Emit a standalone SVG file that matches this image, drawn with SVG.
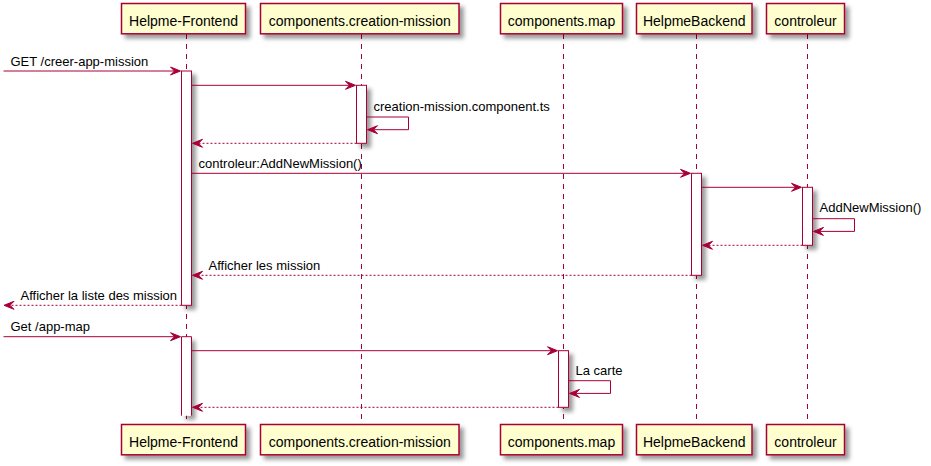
<svg xmlns="http://www.w3.org/2000/svg" width="931" height="466" viewBox="0 0 931 466">
<defs>
<filter id="sh" x="-1" y="-1" width="300%" height="300%">
<feGaussianBlur result="b1" stdDeviation="2"/>
<feColorMatrix in="b1" result="b2" type="matrix" values="0 0 0 0 0 0 0 0 0 0 0 0 0 0 0 0 0 0 .4 0"/>
<feOffset dx="4" dy="4" in="b2" result="b3"/>
<feBlend in="SourceGraphic" in2="b3" mode="normal"/>
</filter>
<style>
.box{fill:#FEFECE;stroke:#A80036;stroke-width:1.5}
.pt{font-family:"Liberation Sans",Arial,sans-serif;font-size:14px;fill:#000;text-anchor:middle}
.mt{font-family:"Liberation Sans",Arial,sans-serif;font-size:13px;fill:#000}
.life{stroke:#A80036;stroke-width:1;stroke-dasharray:5,5;fill:none}
.act{fill:#FFFFFF;stroke:#A80036;stroke-width:1}
.msg{stroke:#A80036;stroke-width:1;fill:none}
.ret{stroke:#A80036;stroke-width:1;fill:none;stroke-dasharray:2,2}
.ah{fill:#A80036;stroke:#A80036;stroke-width:1}
</style>
</defs>
<rect width="931" height="466" fill="#FFFFFF"/>
<g id="lifelines">
<line class="life" x1="186.5" y1="34" x2="186.5" y2="424.5"/>
<line class="life" x1="361.5" y1="34" x2="361.5" y2="424.5"/>
<line class="life" x1="563.5" y1="34" x2="563.5" y2="424.5"/>
<line class="life" x1="696.5" y1="34" x2="696.5" y2="424.5"/>
<line class="life" x1="807.5" y1="34" x2="807.5" y2="424.5"/>
</g>
<g id="p-frontend">
<rect class="box" filter="url(#sh)" x="121.5" y="3.5" width="124" height="30.3"/>
<text class="pt" x="183.5" y="25.5">Helpme-Frontend</text>
<rect class="box" filter="url(#sh)" x="121.5" y="424.5" width="124" height="30.3"/>
<text class="pt" x="183.5" y="446.5">Helpme-Frontend</text>
</g>
<g id="p-creation">
<rect class="box" filter="url(#sh)" x="260.5" y="3.5" width="198.5" height="30.3"/>
<text class="pt" x="359.75" y="25.5">components.creation-mission</text>
<rect class="box" filter="url(#sh)" x="260.5" y="424.5" width="198.5" height="30.3"/>
<text class="pt" x="359.75" y="446.5">components.creation-mission</text>
</g>
<g id="p-map">
<rect class="box" filter="url(#sh)" x="500.5" y="3.5" width="122" height="30.3"/>
<text class="pt" x="561.5" y="25.5">components.map</text>
<rect class="box" filter="url(#sh)" x="500.5" y="424.5" width="122" height="30.3"/>
<text class="pt" x="561.5" y="446.5">components.map</text>
</g>
<g id="p-backend">
<rect class="box" filter="url(#sh)" x="636.5" y="3.5" width="115.5" height="30.3"/>
<text class="pt" x="694.25" y="25.5">HelpmeBackend</text>
<rect class="box" filter="url(#sh)" x="636.5" y="424.5" width="115.5" height="30.3"/>
<text class="pt" x="694.25" y="446.5">HelpmeBackend</text>
</g>
<g id="p-controleur">
<rect class="box" filter="url(#sh)" x="766.5" y="3.5" width="78" height="30.3"/>
<text class="pt" x="805.5" y="25.5">controleur</text>
<rect class="box" filter="url(#sh)" x="766.5" y="424.5" width="78" height="30.3"/>
<text class="pt" x="805.5" y="446.5">controleur</text>
</g>
<g id="activations">
<rect class="act" filter="url(#sh)" x="181.5" y="71" width="10" height="234.3"/>
<rect class="act" filter="url(#sh)" x="356.5" y="85.3" width="10" height="58"/>
<rect class="act" filter="url(#sh)" x="691.5" y="173.3" width="10" height="102"/>
<rect class="act" filter="url(#sh)" x="802.5" y="187.3" width="10" height="58"/>
<rect fill="#FFFFFF" filter="url(#sh)" x="181.5" y="336.7" width="10" height="79"/>
<path class="msg" d="M181.5,415.7 V336.7 H191.5 V415.7"/>
<rect class="act" filter="url(#sh)" x="558.5" y="350.7" width="10" height="56.6"/>
</g>
<g id="connectors">
<line class="msg" x1="3.5" y1="71" x2="177" y2="71"/>
<polygon class="ah" points="170.5,67 180.5,71 170.5,75 174.5,71"/>
<text class="mt" x="10.5" y="65.5">GET /creer-app-mission</text>

<line class="msg" x1="191.5" y1="85.3" x2="352" y2="85.3"/>
<polygon class="ah" points="345.5,81.3 355.5,85.3 345.5,89.3 349.5,85.3"/>

<polyline class="msg" points="366.5,117 408.5,117 408.5,129.7 370,129.7"/>
<polygon class="ah" points="377.5,125.7 367.5,129.7 377.5,133.7 373.5,129.7"/>
<text class="mt" x="373.5" y="110.5">creation-mission.component.ts</text>

<line class="ret" x1="356.5" y1="143.3" x2="195" y2="143.3"/>
<polygon class="ah" points="202.5,139.3 192.5,143.3 202.5,147.3 198.5,143.3"/>

<line class="msg" x1="191.5" y1="173.3" x2="687" y2="173.3"/>
<polygon class="ah" points="680.5,169.3 690.5,173.3 680.5,177.3 684.5,173.3"/>
<text class="mt" x="198.5" y="167.5">controleur:AddNewMission()</text>

<line class="msg" x1="701.5" y1="187.3" x2="798" y2="187.3"/>
<polygon class="ah" points="791.5,183.3 801.5,187.3 791.5,191.3 795.5,187.3"/>

<polyline class="msg" points="812.5,218.7 854.5,218.7 854.5,231.4 816,231.4"/>
<polygon class="ah" points="823.5,227.4 813.5,231.4 823.5,235.4 819.5,231.4"/>
<text class="mt" x="819.5" y="211.5">AddNewMission()</text>

<line class="ret" x1="802.5" y1="245.3" x2="705" y2="245.3"/>
<polygon class="ah" points="712.5,241.3 702.5,245.3 712.5,249.3 708.5,245.3"/>

<line class="ret" x1="691.5" y1="275.3" x2="195" y2="275.3"/>
<polygon class="ah" points="202.5,271.3 192.5,275.3 202.5,279.3 198.5,275.3"/>
<text class="mt" x="208.5" y="269.5">Afficher les mission</text>

<line class="ret" x1="181.5" y1="305.3" x2="7" y2="305.3"/>
<polygon class="ah" points="14,301.3 4,305.3 14,309.3 10,305.3"/>
<text class="mt" x="20.5" y="299.5">Afficher la liste des mission</text>

<line class="msg" x1="3.5" y1="336.7" x2="177" y2="336.7"/>
<polygon class="ah" points="170.5,332.7 180.5,336.7 170.5,340.7 174.5,336.7"/>
<text class="mt" x="10.5" y="330.5">Get /app-map</text>

<line class="msg" x1="191.5" y1="350.7" x2="554" y2="350.7"/>
<polygon class="ah" points="547.5,346.7 557.5,350.7 547.5,354.7 551.5,350.7"/>

<polyline class="msg" points="568.5,380.7 610.5,380.7 610.5,393.4 572,393.4"/>
<polygon class="ah" points="579.5,389.4 569.5,393.4 579.5,397.4 575.5,393.4"/>
<text class="mt" x="575.5" y="374.5">La carte</text>

<line class="ret" x1="558.5" y1="407.3" x2="195" y2="407.3"/>
<polygon class="ah" points="202.5,403.3 192.5,407.3 202.5,411.3 198.5,407.3"/>
</g>
</svg>
